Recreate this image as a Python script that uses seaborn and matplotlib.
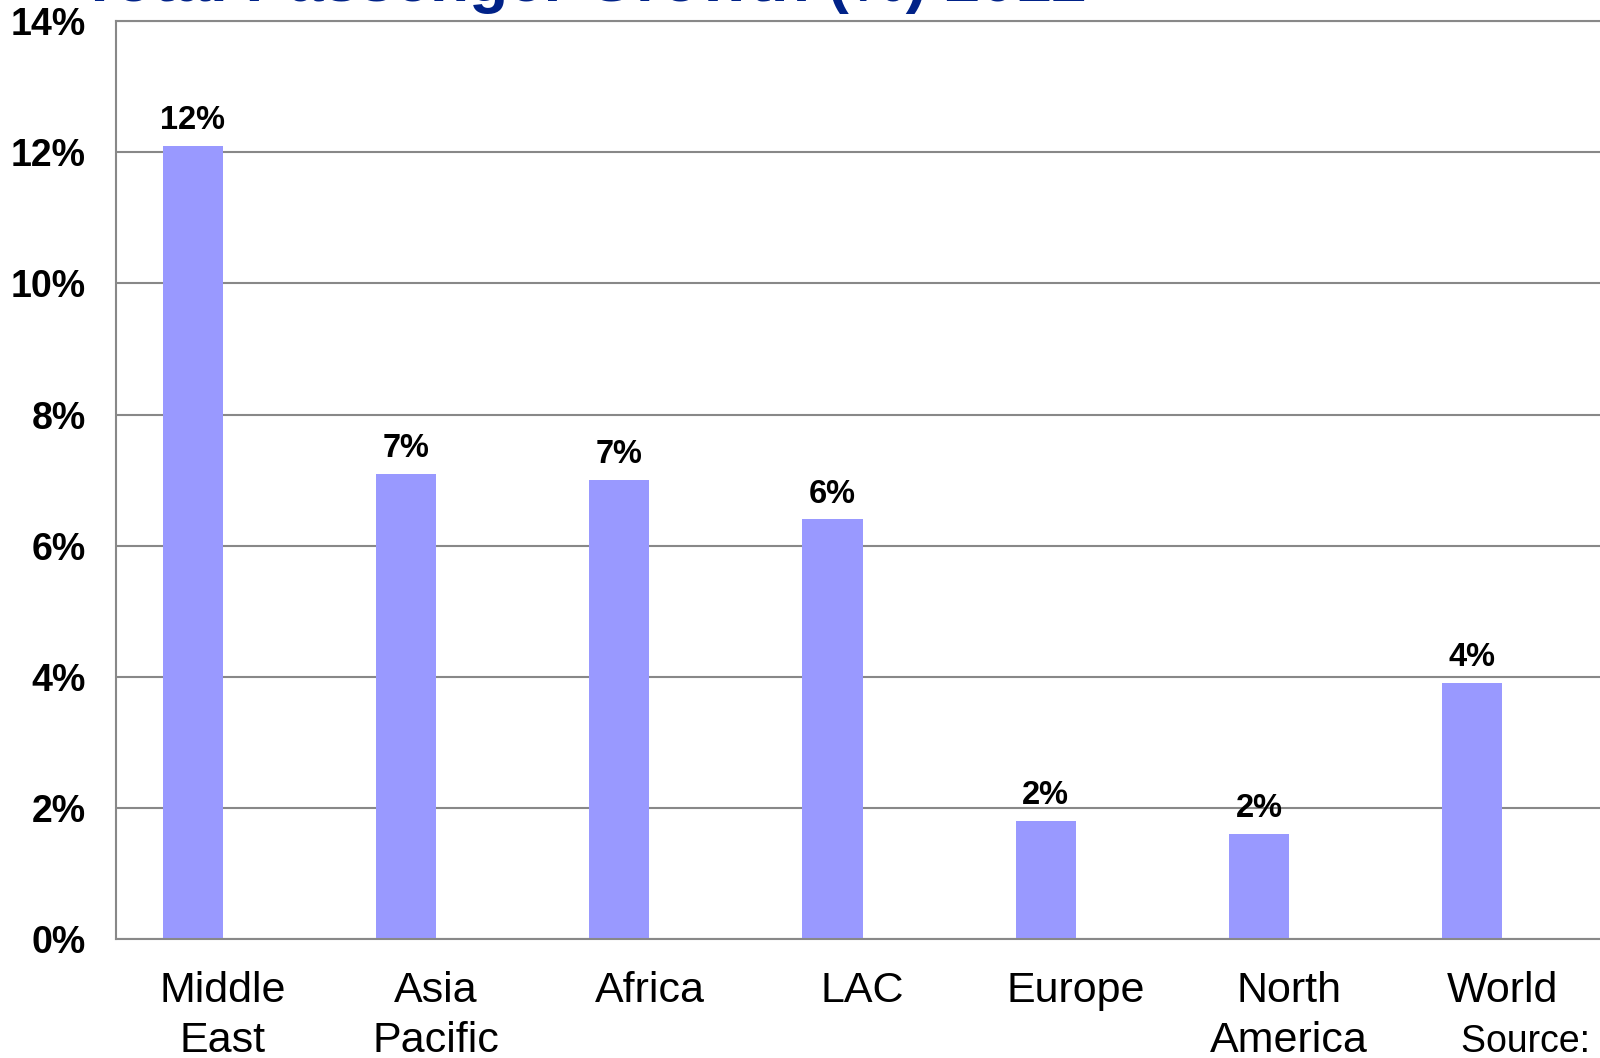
import numpy as np
import pandas as pd
import matplotlib
matplotlib.use('Agg')
import matplotlib.pyplot as plt
import seaborn as sns

# chart data
regions = ['Middle\nEast', 'Asia\nPacific', 'Africa', 'LAC', 'Europe', 'North\nAmerica', 'World']
growth = [12.1, 7.1, 7.0, 6.4, 1.8, 1.6, 3.9]
value_labels = ['12%', '7%', '7%', '6%', '2%', '2%', '4%']
y_ticks = [0, 2, 4, 6, 8, 10, 12, 14]
y_tick_labels = ['0%', '2%', '4%', '6%', '8%', '10%', '12%', '14%']

sns.set_style('white')
plt.rcParams['font.family'] = ['Liberation Sans', 'DejaVu Sans']
plt.rcParams['text.color'] = 'black'
plt.rcParams['xtick.labelcolor'] = 'black'
plt.rcParams['ytick.labelcolor'] = 'black'

# second (empty) series so the bars sit left of centre, like the Excel original
df = pd.DataFrame({
    'region': regions * 2,
    'growth': growth + [0] * len(growth),
    'series': ['2012'] * len(regions) + ['blank'] * len(regions),
})

fig = plt.figure(figsize=(16, 10.58), dpi=100)
ax = fig.add_axes([0.0727, 0.1127, 0.933, 0.8671])

sns.barplot(data=df, x='region', y='growth', hue='series', hue_order=['2012', 'blank'],
            palette={'2012': '#9999FF', 'blank': '#9999FF'}, saturation=1, width=0.565,
            dodge=True, linewidth=0, errorbar=None, legend=False, ax=ax)

ax.bar_label(ax.containers[0], labels=value_labels, padding=7,
             fontsize=23.5, fontweight='bold', color='black')

ax.set_xlim(-0.5, 6.5)
ax.set_ylim(0, 14)
ax.set_yticks(y_ticks)
ax.set_yticklabels(y_tick_labels, fontsize=27, fontweight='bold')
ax.set_xticks(range(len(regions)))
ax.set_xticklabels(regions, fontsize=31, linespacing=1.32)
ax.set_xticks(np.arange(-0.5, 6.5, 1), minor=True)
ax.tick_params(axis='x', which='major', length=0, pad=23)
ax.tick_params(axis='x', which='minor', length=12, width=1.5, color='#888888', direction='out')
ax.tick_params(axis='y', length=10, width=1.5, color='#888888', direction='out', pad=12)
ax.set_xlabel('')
ax.set_ylabel('')

ax.yaxis.grid(True, color='#888888', linewidth=1.5)
ax.set_axisbelow(True)
for side in ['left', 'bottom', 'top']:
    ax.spines[side].set_color('#888888')
    ax.spines[side].set_linewidth(1.5)
ax.spines['right'].set_visible(False)

# title cut off at the top edge of the slide
fig.text(0.05, 0.9995, 'Total Passenger Growth (%) 2012', fontsize=46, fontweight='bold',
         color='#002288', va='baseline', ha='left')
fig.text(0.913, 0.006, 'Source: IATA', fontsize=27, va='baseline', ha='left')

fig.savefig('out.png', dpi=100)
